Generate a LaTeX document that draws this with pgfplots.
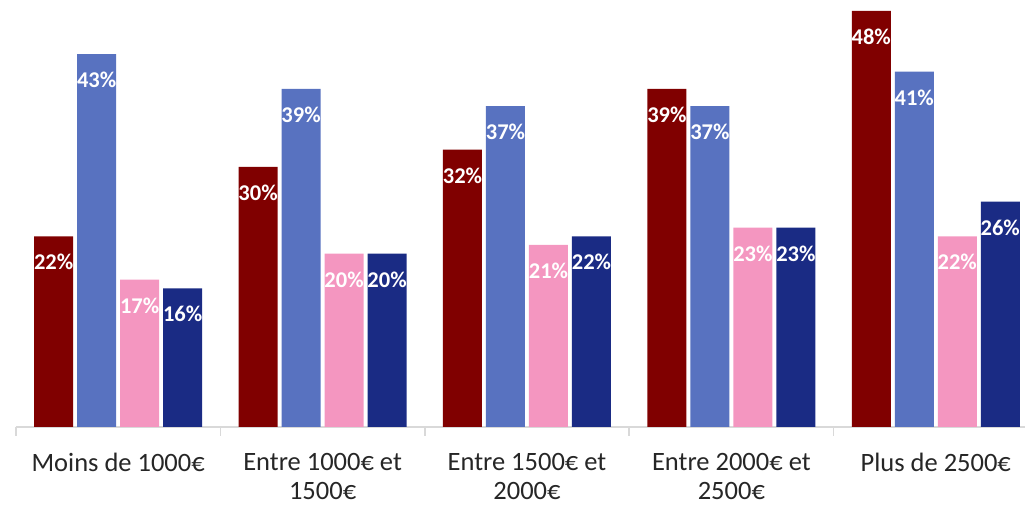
\documentclass[border=0pt]{standalone}
\usepackage{pgfplots}
\pgfplotsset{compat=1.18}
\usepackage{fontspec}
\setmainfont{Carlito}
\definecolor{cRed}{RGB}{128,0,0}
\definecolor{cBlue}{RGB}{88,114,192}
\definecolor{cPink}{RGB}{244,150,192}
\definecolor{cNavy}{RGB}{26,43,132}
\definecolor{axgray}{RGB}{217,217,217}
\begin{document}
\begin{tikzpicture}[x=1pt,y=1pt]
\path[use as bounding box] (0,0) rectangle (1025,505);
\begin{axis}[
  at={(16pt,78pt)}, anchor=south west,
  scale only axis, width=1022pt, height=433.5pt,
  xmin=-0.5, xmax=4.5, ymin=0, ymax=50,
  enlarge x limits=false,
  axis x line*=bottom, axis y line=none,
  axis line style={axgray, line width=1.5pt},
  x axis line style={-},
  xtick={-0.5,0.5,...,4.5},
  x tick label as interval,
  xticklabels={{Moins de 1000€},{Entre 1000€ et\\1500€},{Entre 1500€ et\\2000€},{Entre 2000€ et\\2500€},{Plus de 2500€}},
  x tick label style={align=center, font=\fontsize{26.5}{29}\selectfont, text=black!85, inner sep=1pt, yshift=-16pt},
  tick align=outside, major tick length=9pt,
  tick style={axgray, line width=1.5pt},
  ytick=\empty,
  ybar, bar width=39pt,
  nodes near coords={\pgfmathprintnumber[assume math mode=true,fixed,precision=0]{\pgfplotspointmeta}\%},
  every node near coord/.append style={anchor=center, yshift=-26pt, text=white, font=\bfseries\fontsize{22.5}{26}\selectfont},
]
\addplot[fill=cRed, draw=none, bar shift=-64.5pt] coordinates {(0,22) (1,30) (2,32) (3,39) (4,48)};
\addplot[fill=cBlue, draw=none, bar shift=-21.5pt] coordinates {(0,43) (1,39) (2,37) (3,37) (4,41)};
\addplot[fill=cPink, draw=none, bar shift=21.5pt] coordinates {(0,17) (1,20) (2,21) (3,23) (4,22)};
\addplot[fill=cNavy, draw=none, bar shift=64.5pt] coordinates {(0,16) (1,20) (2,22) (3,23) (4,26)};
\end{axis}
\end{tikzpicture}
\end{document}
